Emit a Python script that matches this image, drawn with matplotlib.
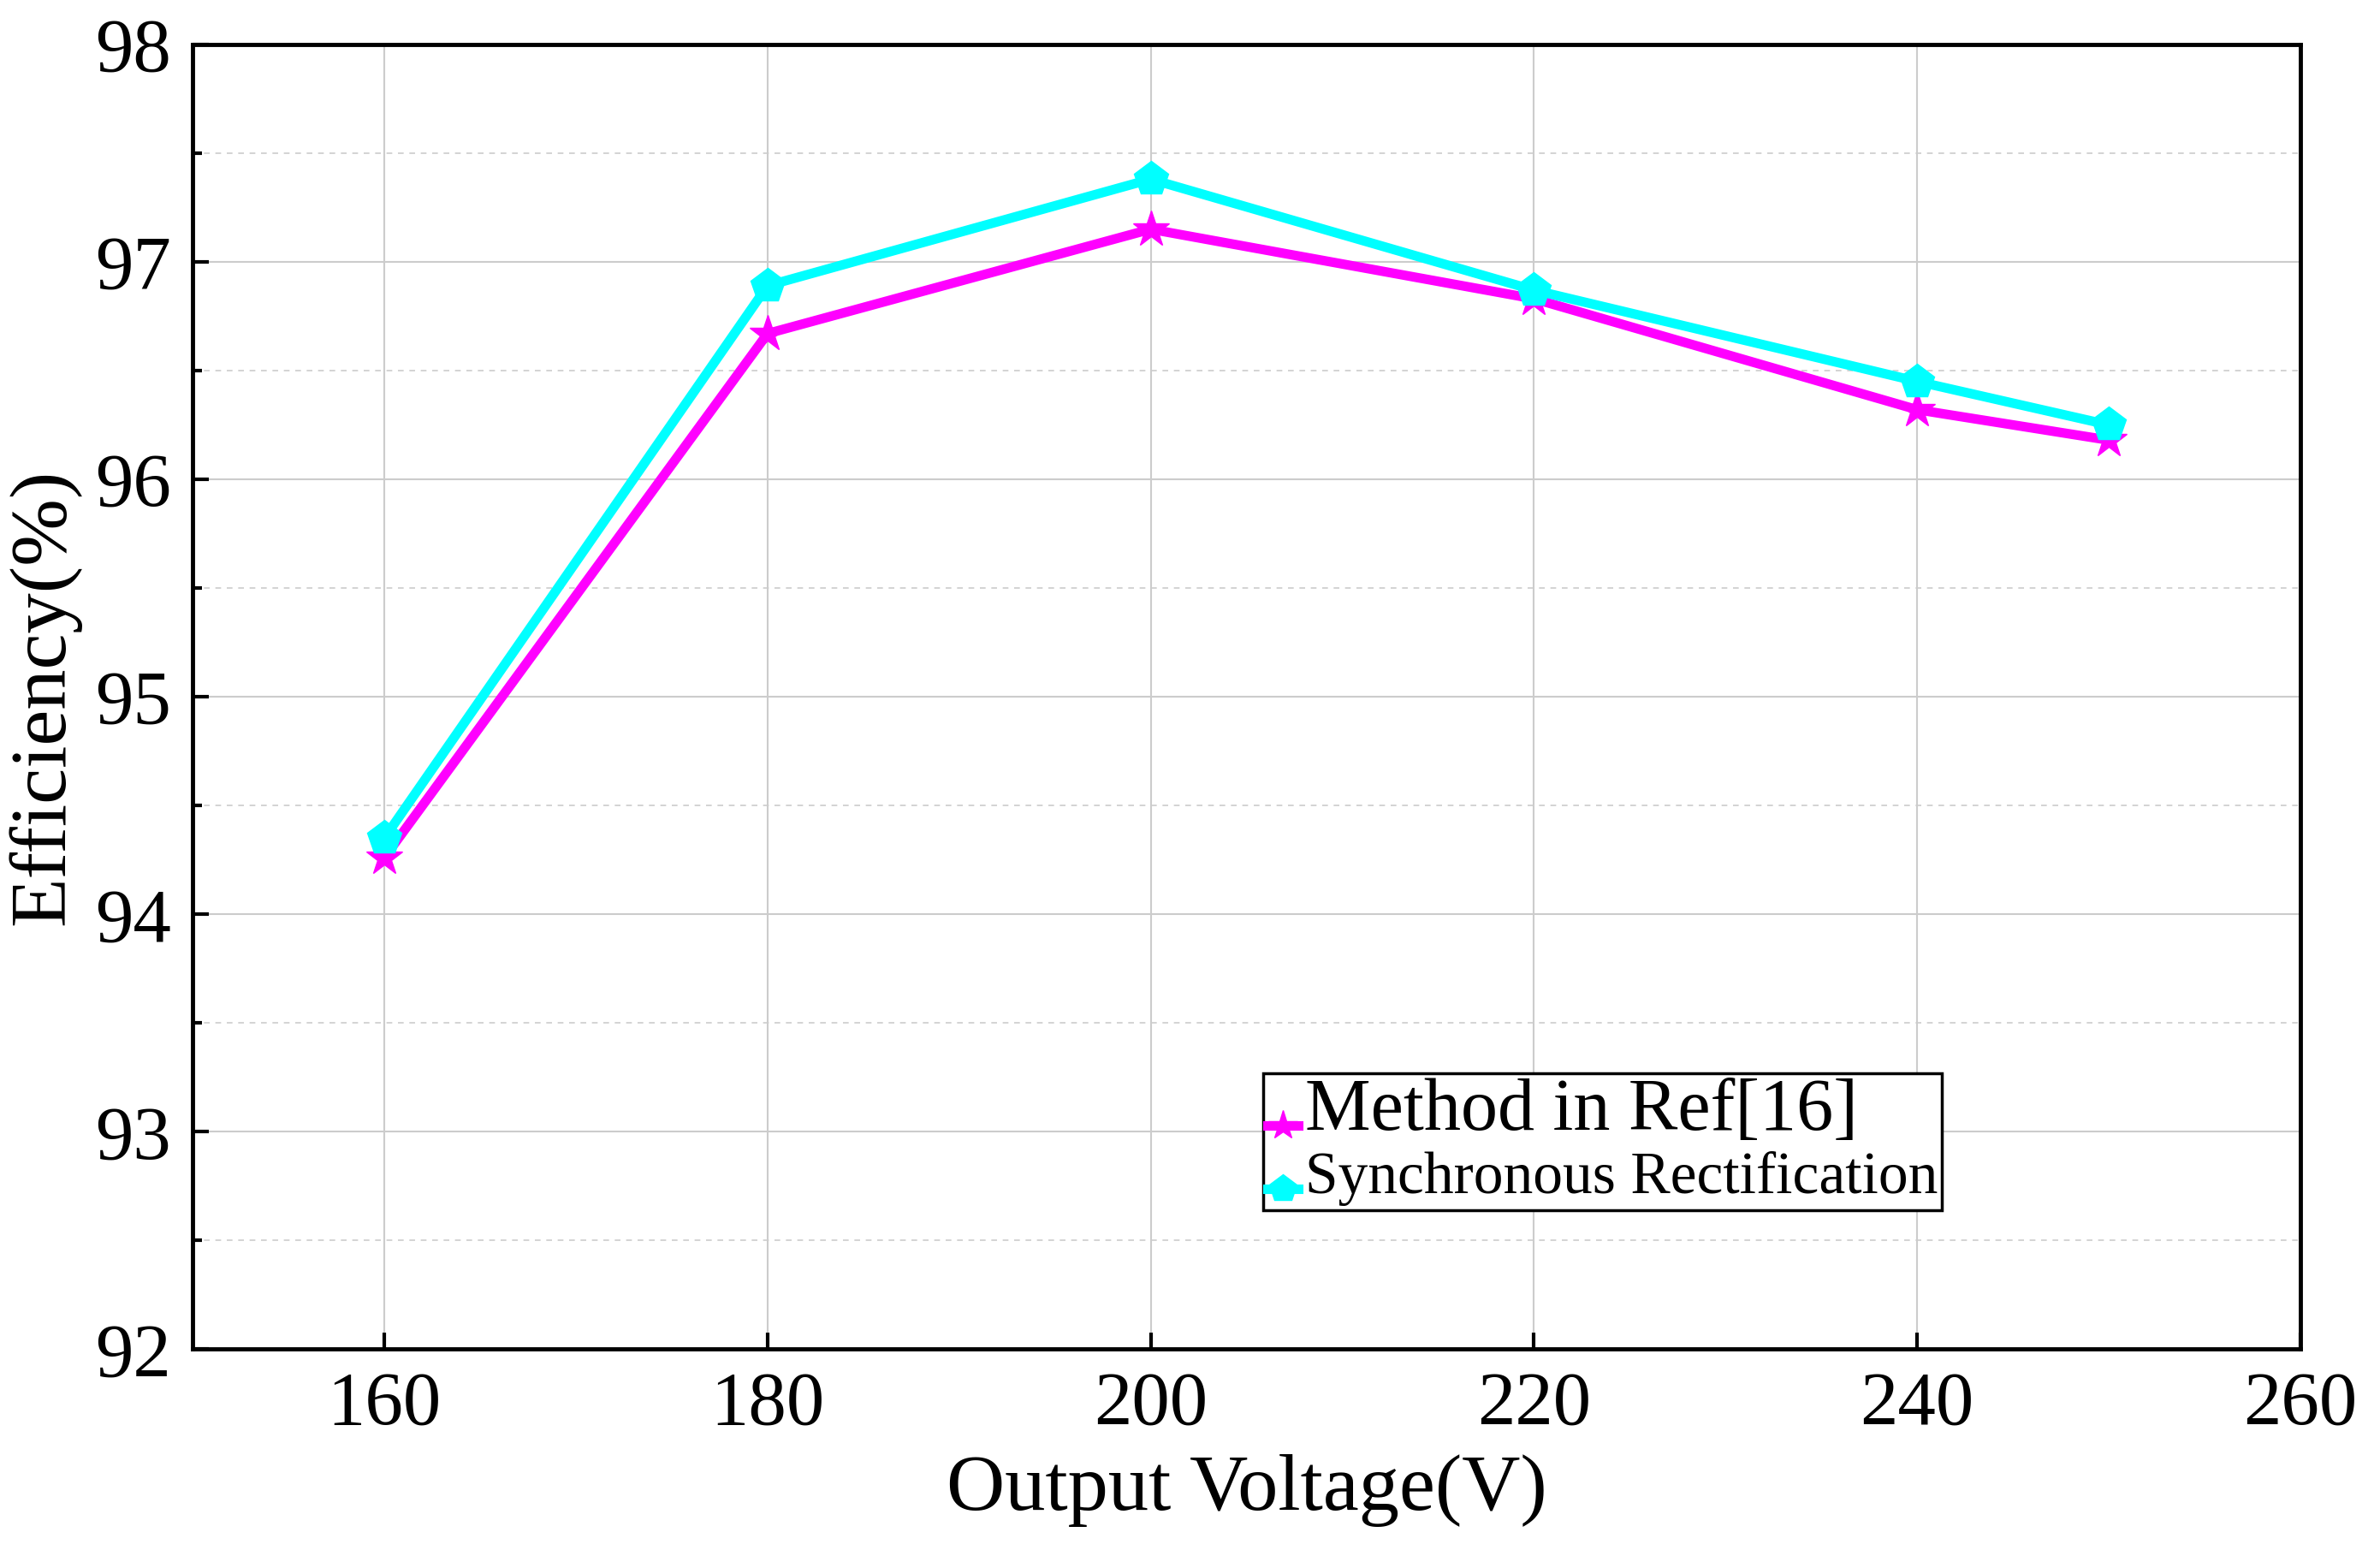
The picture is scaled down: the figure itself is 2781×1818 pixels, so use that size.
import matplotlib
matplotlib.use("Agg")
import matplotlib.pyplot as plt  # noqa: E402

voltage = [160, 180, 200, 220, 240, 250]
eff_ref16 = [94.26, 96.67, 97.15, 96.83, 96.32, 96.18]
eff_sync = [94.35, 96.89, 97.38, 96.87, 96.45, 96.25]

plt.rcParams["font.family"] = "Liberation Serif"

fig = plt.figure(figsize=(27.81, 18.18), dpi=100)
ax = fig.add_axes([0.081, 0.133, 0.8855, 0.8385])

ax.plot(voltage, eff_ref16, color="#ff00ff", lw=8, marker="*", ms=32,
        label="Method in Ref[16]", zorder=3)
ax.plot(voltage, eff_sync, color="#00ffff", lw=8, marker="p", ms=30,
        label="Synchronous Rectification", zorder=3)

ax.set_xlim(150, 260)
ax.set_ylim(92, 98)
ax.set_xticks(range(160, 261, 20))
ax.set_yticks(range(92, 99))
ax.set_yticks([92.5 + i for i in range(6)], minor=True)
ax.grid(True, which="major", color="#cccccc", lw=1.5)
ax.grid(True, which="minor", axis="y", color="#cccccc", lw=1.2, ls=(0, (4, 4)))
ax.tick_params(which="major", direction="in", length=14, width=3, labelsize=64, pad=18)
ax.tick_params(which="minor", direction="in", length=8, width=3)
for s in ax.spines.values():
    s.set_linewidth(3.5)

ax.set_xlabel("Output Voltage(V)", fontsize=68, labelpad=12)
ax.set_ylabel("Efficiency(%)", fontsize=68, labelpad=12)

leg = ax.legend(loc="lower left", bbox_to_anchor=(0.505, 0.102), fancybox=False,
                edgecolor="black", framealpha=1, handlelength=2.6, borderpad=0.35,
                labelspacing=0.45, handletextpad=0.6, markerscale=0.8)
leg.get_frame().set_linewidth(2.5)
texts = leg.get_texts()
texts[0].set_fontsize(62)
texts[1].set_fontsize(50)

fig.savefig("out.png", dpi=100)
plt.close(fig)
